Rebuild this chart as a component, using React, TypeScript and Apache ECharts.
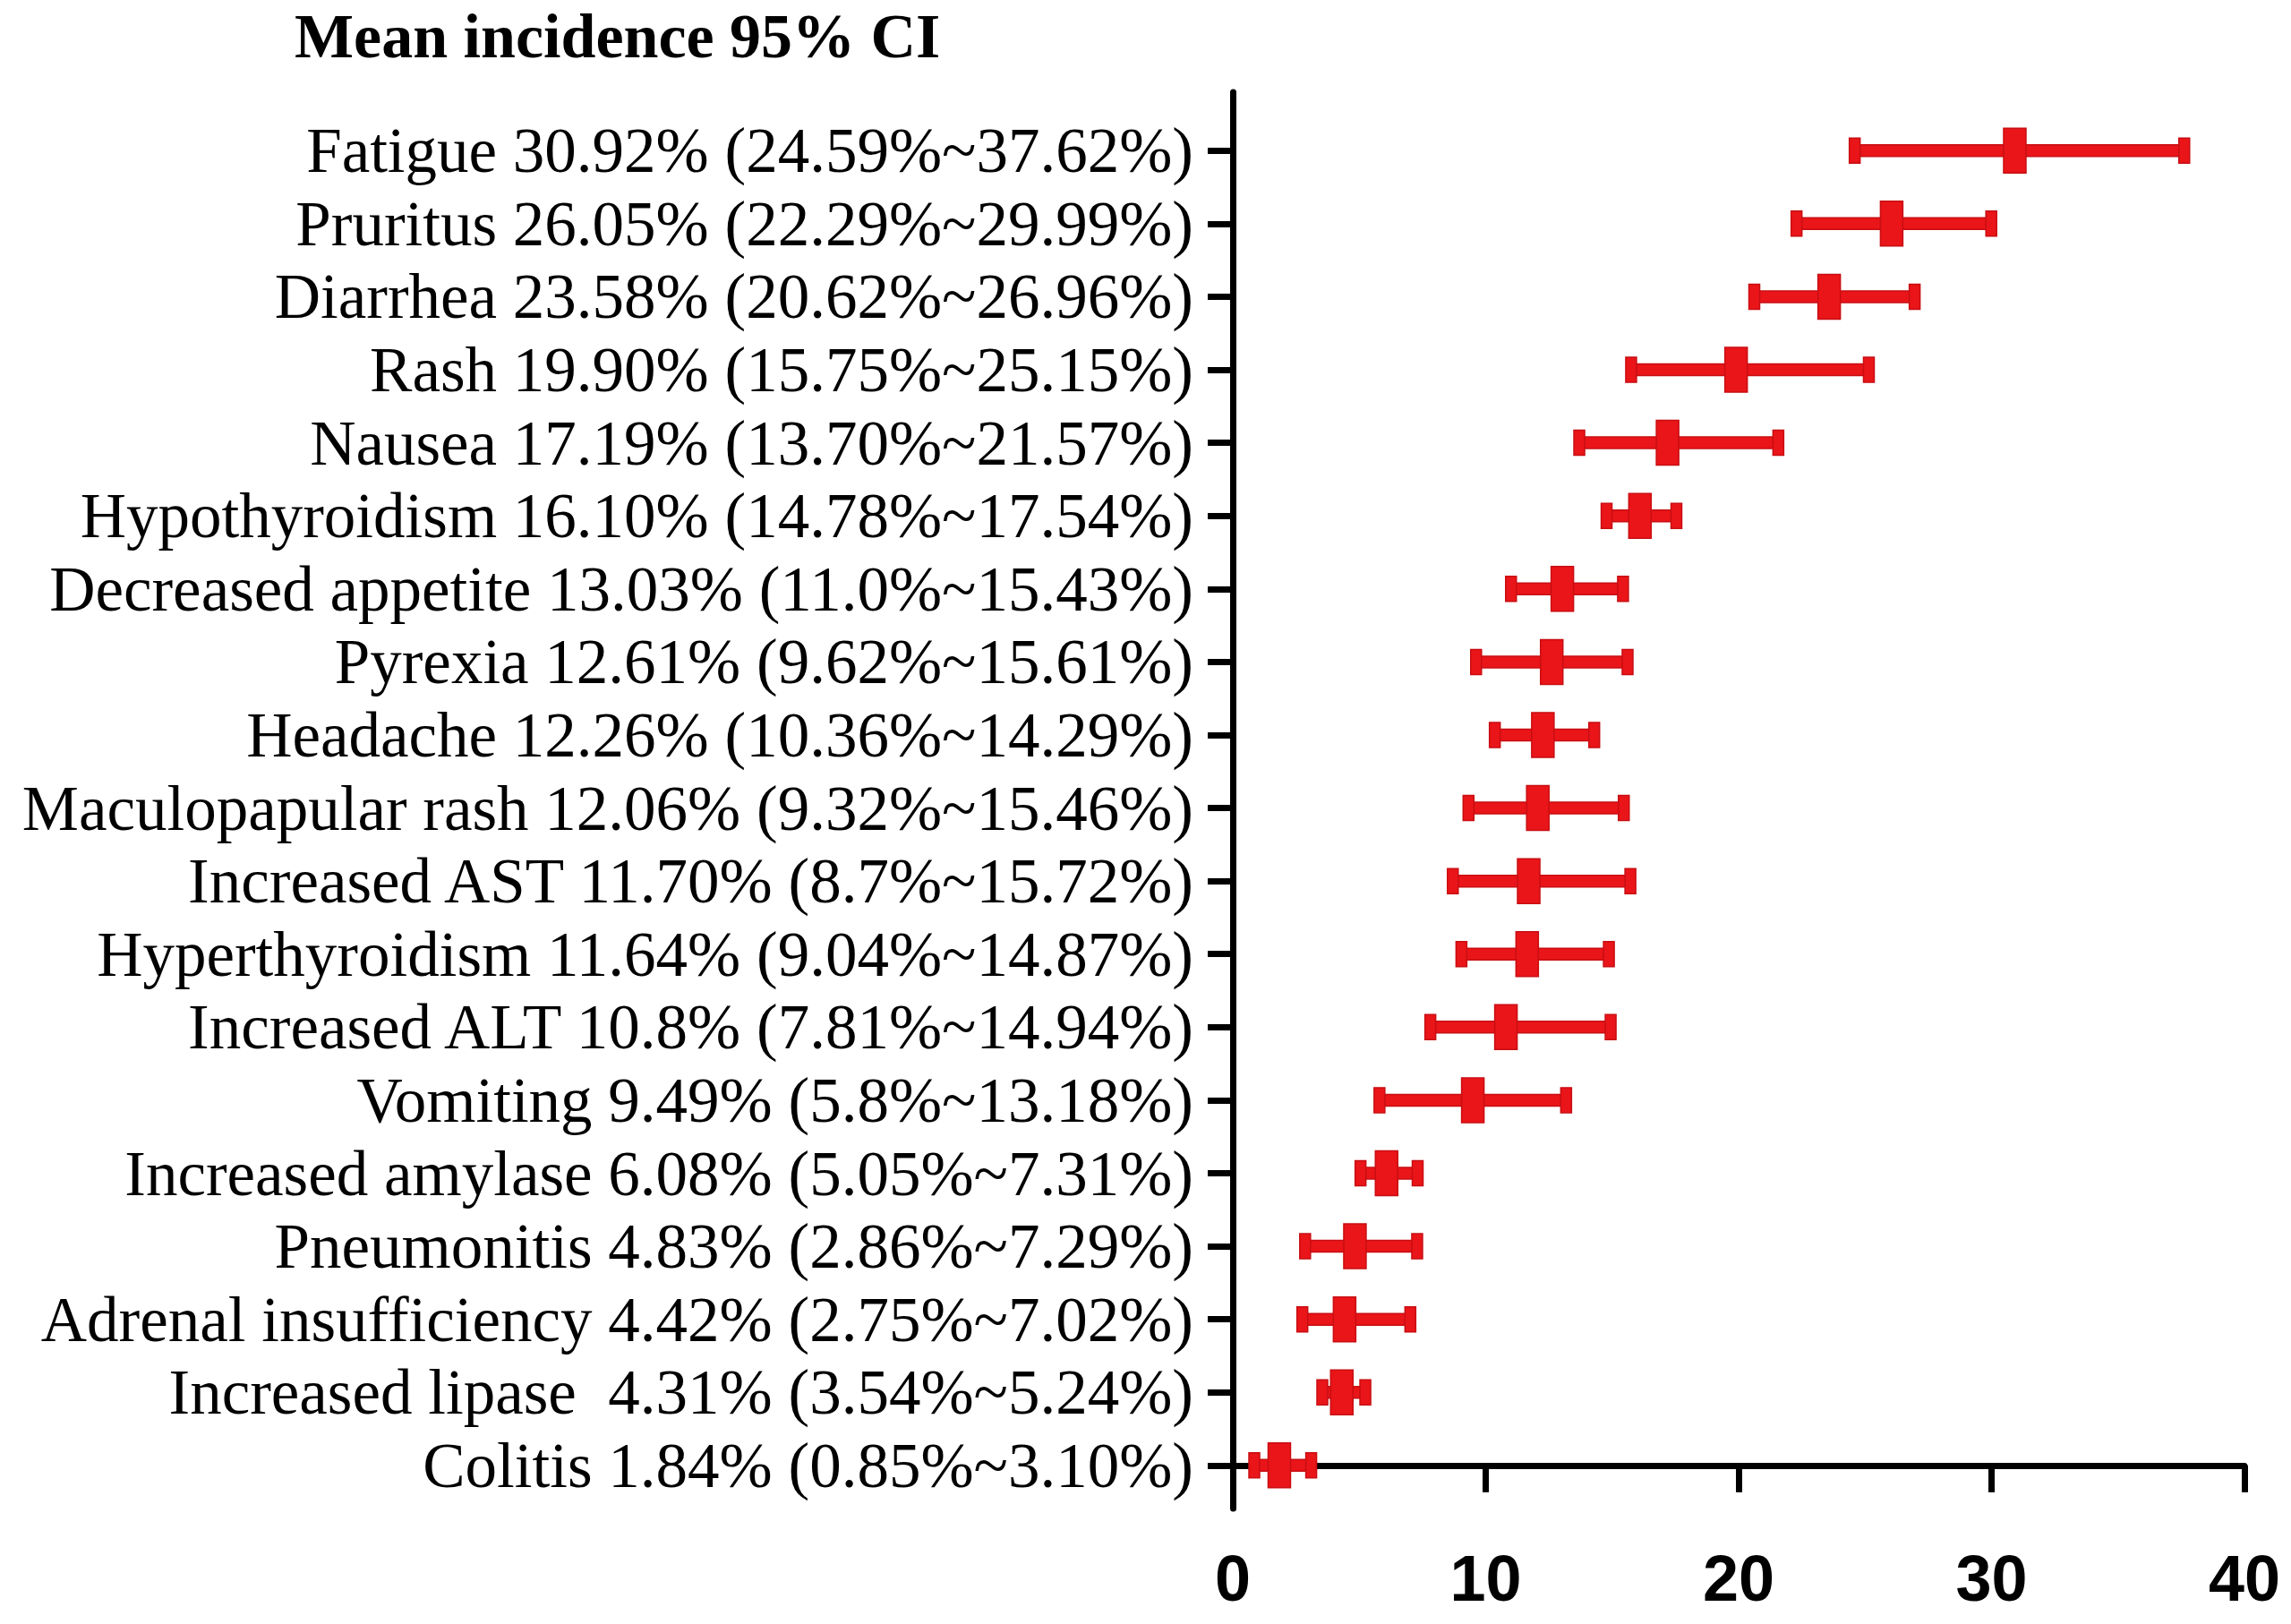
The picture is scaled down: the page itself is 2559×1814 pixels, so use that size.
import React, { useEffect, useRef } from 'react';
import * as echarts from 'echarts';

// Data, listed top to bottom as in the chart
const labels: string[] = [
  'Fatigue 30.92% (24.59%~37.62%)',
  'Pruritus 26.05% (22.29%~29.99%)',
  'Diarrhea 23.58% (20.62%~26.96%)',
  'Rash 19.90% (15.75%~25.15%)',
  'Nausea 17.19% (13.70%~21.57%)',
  'Hypothyroidism 16.10% (14.78%~17.54%)',
  'Decreased appetite 13.03% (11.0%~15.43%)',
  'Pyrexia 12.61% (9.62%~15.61%)',
  'Headache 12.26% (10.36%~14.29%)',
  'Maculopapular rash 12.06% (9.32%~15.46%)',
  'Increased AST 11.70% (8.7%~15.72%)',
  'Hyperthyroidism 11.64% (9.04%~14.87%)',
  'Increased ALT 10.8% (7.81%~14.94%)',
  'Vomiting 9.49% (5.8%~13.18%)',
  'Increased amylase 6.08% (5.05%~7.31%)',
  'Pneumonitis 4.83% (2.86%~7.29%)',
  'Adrenal insufficiency 4.42% (2.75%~7.02%)',
  'Increased lipase\u00a0 4.31% (3.54%~5.24%)',
  'Colitis 1.84% (0.85%~3.10%)',
];
const means: number[] = [30.92, 26.05, 23.58, 19.9, 17.19, 16.1, 13.03, 12.61, 12.26, 12.06, 11.7, 11.64, 10.8, 9.49, 6.08, 4.83, 4.42, 4.31, 1.84];
const lows: number[] = [24.59, 22.29, 20.62, 15.75, 13.7, 14.78, 11.0, 9.62, 10.36, 9.32, 8.7, 9.04, 7.81, 5.8, 5.05, 2.86, 2.75, 3.54, 0.85];
const highs: number[] = [37.62, 29.99, 26.96, 25.15, 21.57, 17.54, 15.43, 15.61, 14.29, 15.46, 15.72, 14.87, 14.94, 13.18, 7.31, 7.29, 7.02, 5.24, 3.1];
const xTicks: number[] = [0, 10, 20, 30, 40];

const N = labels.length;
const RED = '#EA1519';
const EDGE = '#C80E12';

export default function App() {
  const ref = useRef<HTMLDivElement>(null);
  useEffect(() => {
    const chart = echarts.init(ref.current!, null, { renderer: 'svg' });
    const data = labels.map((_, i) => [lows[i], highs[i], means[i], N - 1 - i]);
    const rowValues = labels.map((_, i) => i);
    chart.setOption({
      animation: false,
      backgroundColor: '#ffffff',
      title: {
        text: 'Mean incidence 95% CI',
        left: 324,
        top: 0,
        textStyle: {
          fontFamily: 'Liberation Serif',
          fontWeight: 'bold',
          fontSize: 70,
          color: '#000',
        },
      },
      grid: { left: 1377, right: 52, top: 103, bottom: 129, containLabel: false },
      xAxis: {
        type: 'value',
        min: xTicks[0],
        max: xTicks[xTicks.length - 1],
        interval: 10,
        axisLine: { show: true, lineStyle: { color: '#000', width: 7 } },
        axisTick: { show: true, length: 30, lineStyle: { color: '#000', width: 7 } },
        axisLabel: {
          margin: 42,
          fontFamily: 'Liberation Sans',
          fontWeight: 'bold',
          fontSize: 72,
          color: '#000',
        },
        splitLine: { show: false },
      },
      yAxis: {
        type: 'value',
        min: -0.59,
        max: 18.8,
        axisLine: { show: true, lineStyle: { color: '#000', width: 7 } },
        axisTick: { show: true, length: 28, lineStyle: { color: '#000', width: 7 }, customValues: rowValues },
        axisLabel: {
          customValues: rowValues,
          margin: 44,
          fontFamily: 'Liberation Serif',
          fontSize: 71,
          color: '#000',
          formatter: (v: number) => {
            const k = Math.round(v);
            if (Math.abs(v - k) > 1e-6 || k < 0 || k >= N) return '';
            return labels[N - 1 - k];
          },
        },
        splitLine: { show: false },
      },
      series: [
        {
          type: 'custom',
          data,
          encode: { x: [0, 1, 2], y: 3 },
          renderItem: (params: any, api: any) => {
            const y = api.value(3);
            const lo = api.coord([api.value(0), y]);
            const hi = api.coord([api.value(1), y]);
            const m = api.coord([api.value(2), y]);
            const style = { fill: RED, stroke: EDGE, lineWidth: 1.5 };
            const WH = 13, CW = 12, CH = 28, MW = 25, MH = 50;
            return {
              type: 'group',
              children: [
                { type: 'rect', shape: { x: lo[0], y: lo[1] - WH / 2, width: hi[0] - lo[0], height: WH }, style },
                { type: 'rect', shape: { x: lo[0] - CW / 2, y: lo[1] - CH / 2, width: CW, height: CH }, style },
                { type: 'rect', shape: { x: hi[0] - CW / 2, y: hi[1] - CH / 2, width: CW, height: CH }, style },
                { type: 'rect', shape: { x: m[0] - MW / 2, y: m[1] - MH / 2, width: MW, height: MH }, style },
              ],
            };
          },
        },
      ],
    });
    return () => chart.dispose();
  }, []);
  return (
    <div
      ref={ref}
      style={{ position: 'fixed', left: 0, top: 0, width: 2559, height: 1814, background: '#fff' }}
    />
  );
}
